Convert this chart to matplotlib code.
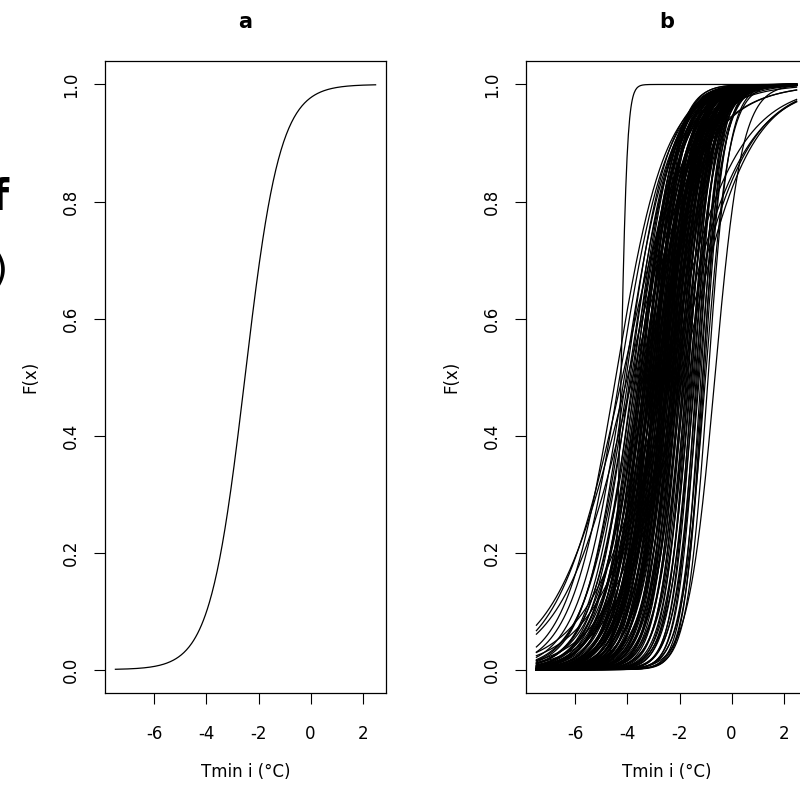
import numpy as np
import matplotlib.pyplot as plt

plt.rcParams['font.family'] = 'DejaVu Sans'
plt.rcParams['axes.unicode_minus'] = False

# x range of Tmin i (°C) over which the fitted CDFs are drawn
x_min, x_max = -7.5, 2.5

# panel a: one fitted logistic CDF (location, scale)
mu_a = -2.52
s_a = 0.67

# panel b: many fitted logistic CDFs (location, scale)
mu_b = [
    -4.25, -0.64, -4.00, -3.80, -4.20, -2.34, -2.10, -2.60, -1.90, -0.90, -1.00, -1.10,
    -4.45, -4.30, -4.12, -4.05, -3.96, -3.90, -3.85, -3.79, -3.74, -3.70, -3.66, -3.62, -3.58, -3.55, -3.52,
    -3.49, -3.46, -3.44, -3.41, -3.39, -3.37, -3.34, -3.32, -3.30, -3.28,
    -3.26, -3.24, -3.22, -3.20, -3.18, -3.16, -3.14, -3.12, -3.10, -3.08,
    -3.06, -3.04, -3.02, -3.00, -2.98, -2.96, -2.95, -2.93, -2.91, -2.90,
    -2.88, -2.86, -2.85, -2.83, -2.81, -2.80, -2.78, -2.77, -2.75, -2.73,
    -2.72, -2.70, -2.68, -2.67, -2.65, -2.63, -2.62, -2.60, -2.58, -2.57,
    -2.55, -2.53, -2.51, -2.50, -2.48, -2.46, -2.45, -2.43, -2.41, -2.39,
    -2.37, -2.35, -2.33, -2.31, -2.29, -2.27, -2.25, -2.23, -2.21, -2.19,
    -2.17, -2.15, -2.13, -2.11, -2.09, -2.07, -2.05, -2.03, -2.01, -1.99,
    -1.96, -1.93, -1.90, -1.87, -1.84, -1.81, -1.78, -1.75, -1.72, -1.69,
    -1.66, -1.62, -1.59, -1.55, -1.52, -1.48, -1.44, -1.40, -1.36, -1.32,
    -1.28, -1.24, -1.18, -1.12, -1.05,
    -3.35, -3.05, -2.84, -2.66, -2.44, -2.28, -3.52, -3.15, -2.97, -2.58,
]
s_b = [
    0.12, 0.51, 1.40, 1.35, 1.25, 1.39, 1.30, 1.40, 1.25, 0.40, 0.45, 0.35,
    0.95, 0.92, 0.88, 0.80, 0.85, 0.78, 0.90, 0.74, 0.82, 0.70, 0.86, 0.76, 0.68, 0.80, 0.72,
    0.66, 0.84, 0.60, 0.75, 0.92, 0.63, 0.70, 0.81, 0.58, 0.77,
    0.66, 0.88, 0.62, 0.73, 0.55, 0.83, 0.68, 0.60, 0.79, 0.65,
    0.72, 0.57, 0.86, 0.64, 0.70, 0.53, 0.78, 0.61, 0.68, 0.90,
    0.59, 0.74, 0.63, 0.69, 0.56, 0.80, 0.65, 0.71, 0.52, 0.76,
    0.62, 0.68, 0.55, 0.74, 0.60, 0.66, 0.50, 0.71, 0.58, 0.64,
    0.77, 0.53, 0.61, 0.69, 0.56, 0.63, 0.48, 0.72, 0.59, 0.65,
    0.52, 0.60, 0.67, 0.49, 0.57, 0.63, 0.54, 0.70, 0.51, 0.58,
    0.46, 0.62, 0.55, 0.50, 0.66, 0.47, 0.56, 0.52, 0.60, 0.45,
    0.54, 0.49, 0.58, 0.44, 0.52, 0.47, 0.56, 0.42, 0.50, 0.46,
    0.40, 0.53, 0.44, 0.48, 0.38, 0.45, 0.41, 0.50, 0.37, 0.43,
    0.39, 0.46, 0.36, 0.41, 0.38,
    0.62, 0.54, 0.72, 0.48, 0.58, 0.44, 0.64, 0.50, 0.46, 0.55,
]

xticks = [-6, -4, -2, 0, 2]
yticks = [0.0, 0.2, 0.4, 0.6, 0.8, 1.0]
ytick_labels = ['0.0', '0.2', '0.4', '0.6', '0.8', '1.0']


def logistic_cdf(x, mu, s):
    return 1.0 / (1.0 + np.exp(-(x - mu) / s))


x = np.linspace(x_min, x_max, 400)

fig = plt.figure(figsize=(8, 7.87), dpi=100)
ax_a = fig.add_axes([0.13125, 0.1194, 0.35125, 0.803])
ax_b = fig.add_axes([0.6575, 0.1194, 0.35125, 0.803])

ax_a.plot(x, logistic_cdf(x, mu_a, s_a), color='black', lw=0.9)
for mu, s in zip(mu_b, s_b):
    ax_b.plot(x, logistic_cdf(x, mu, s), color='black', lw=0.9)

for ax, title in [(ax_a, 'a'), (ax_b, 'b')]:
    ax.set_xlim(-7.9, 2.9)
    ax.set_ylim(-0.04, 1.04)
    ax.set_xticks(xticks)
    ax.set_yticks(yticks)
    ax.set_yticklabels(ytick_labels)
    ax.tick_params(direction='out', length=8, width=0.8, labelsize=12)
    ax.tick_params(axis='x', pad=15)
    ax.tick_params(axis='y', pad=10, labelrotation=90)
    for lab in ax.get_yticklabels():
        lab.set_va('center')
    for sp in ax.spines.values():
        sp.set_linewidth(0.9)
    ax.set_title(title, fontweight='bold', fontsize=15, pad=24)
    ax.set_xlabel('Tmin i (°C)', fontsize=12)
    ax.xaxis.set_label_coords(0.5, -0.111)
    ax.set_ylabel('F(x)', fontsize=12)
    ax.yaxis.set_label_coords(-0.232, 0.5)

# pieces of text cut off at the left edge of the picture, as in the source
fig.text(0.011, 0.748, 'f', fontsize=30, fontweight='bold', ha='right', va='center')
fig.text(0.010, 0.656, ')', fontsize=28, ha='right', va='center')

fig.savefig('out.png', dpi=100)
